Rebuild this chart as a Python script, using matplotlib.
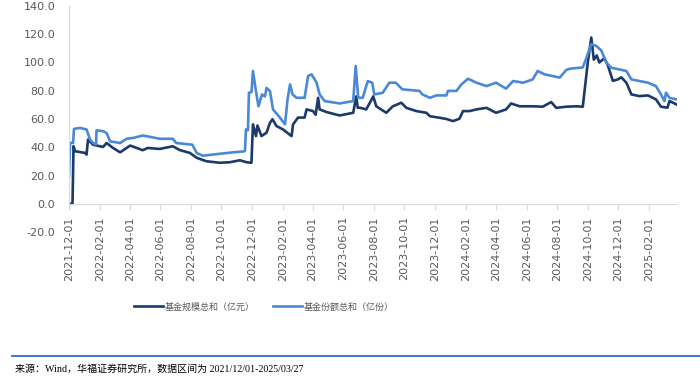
import pandas as pd
import matplotlib
matplotlib.use('Agg')
import matplotlib.pyplot as plt
import matplotlib.dates as mdates

# 基金规模总和（亿元）
SCALE_DATES = [
    '2021-12-01', '2021-12-08', '2021-12-10', '2021-12-13', '2022-01-02',
    '2022-01-05', '2022-01-08', '2022-01-18', '2022-02-07', '2022-02-14',
    '2022-02-27', '2022-03-13', '2022-04-02', '2022-04-27', '2022-05-07',
    '2022-05-31', '2022-06-26', '2022-07-10', '2022-07-30', '2022-08-13',
    '2022-09-01', '2022-09-28', '2022-10-18', '2022-11-07', '2022-11-20',
    '2022-11-30', '2022-12-03', '2022-12-09', '2022-12-12', '2022-12-20',
    '2022-12-30', '2023-01-06', '2023-01-11', '2023-01-19', '2023-02-01',
    '2023-02-18', '2023-02-21', '2023-03-03', '2023-03-16', '2023-03-20',
    '2023-04-02', '2023-04-07', '2023-04-12', '2023-04-15', '2023-04-29',
    '2023-05-25', '2023-06-21', '2023-06-27', '2023-06-30', '2023-07-04',
    '2023-07-17', '2023-07-31', '2023-08-06', '2023-08-26', '2023-09-08',
    '2023-09-25', '2023-10-05', '2023-10-25', '2023-11-14', '2023-11-21',
    '2023-12-10', '2023-12-24', '2024-01-06', '2024-01-19', '2024-01-26',
    '2024-02-08', '2024-02-22', '2024-03-13', '2024-04-01', '2024-04-21',
    '2024-05-01', '2024-05-18', '2024-06-13', '2024-07-03', '2024-07-20',
    '2024-07-30', '2024-08-19', '2024-09-08', '2024-09-21', '2024-10-01',
    '2024-10-08', '2024-10-13', '2024-10-19', '2024-10-24', '2024-11-03',
    '2024-11-10', '2024-11-20', '2024-11-30', '2024-12-07', '2024-12-17',
    '2024-12-27', '2025-01-12', '2025-01-29', '2025-02-14', '2025-02-24',
    '2025-03-09', '2025-03-13', '2025-03-20', '2025-03-27',
]
SCALE = [
    0.0, 0.0, 40.7, 37.2, 36.0,
    34.8, 45.5, 41.8, 40.2, 43.0,
    39.5, 36.4, 41.2, 37.9, 39.5,
    38.8, 40.7, 38.0, 36.0, 32.5,
    30.1, 29.0, 29.4, 30.8, 29.4,
    29.0, 56.2, 47.9, 55.4, 47.9,
    50.3, 57.4, 59.8, 55.0, 52.6,
    47.9, 56.2, 61.0, 61.0, 66.8,
    65.6, 63.0, 75.0, 66.8, 64.9,
    62.5, 64.4, 76.0, 68.0, 68.0,
    66.8, 76.0, 69.0, 64.4, 69.0,
    71.5, 67.9, 65.6, 64.4, 62.0,
    60.9, 60.0, 58.5, 60.2, 65.6,
    65.6, 66.8, 67.9, 64.4, 66.8,
    71.0, 69.0, 69.0, 68.7, 72.0,
    67.9, 68.7, 69.0, 68.7, 100.0,
    117.7, 102.0, 105.0, 100.0, 103.0,
    98.0, 87.0, 88.0, 89.5, 85.7,
    77.4, 76.2, 76.7, 73.9, 68.7,
    68.0, 72.7, 71.5, 70.3,
]

# 基金份额总和（亿份）
SHARE_DATES = [
    '2021-12-01', '2021-12-03', '2021-12-09', '2021-12-11', '2021-12-23',
    '2022-01-05', '2022-01-12', '2022-01-18', '2022-01-24', '2022-01-25',
    '2022-02-08', '2022-02-14', '2022-02-21', '2022-03-13', '2022-03-26',
    '2022-04-08', '2022-04-27', '2022-05-11', '2022-05-31', '2022-06-26',
    '2022-07-03', '2022-08-04', '2022-08-13', '2022-08-25', '2022-09-28',
    '2022-10-24', '2022-11-13', '2022-11-17', '2022-11-19', '2022-11-23',
    '2022-11-25', '2022-11-30', '2022-12-03', '2022-12-08', '2022-12-14',
    '2022-12-21', '2022-12-27', '2022-12-30', '2023-01-06', '2023-01-12',
    '2023-01-26', '2023-02-05', '2023-02-10', '2023-02-15', '2023-02-20',
    '2023-02-28', '2023-03-16', '2023-03-23', '2023-03-30', '2023-04-09',
    '2023-04-15', '2023-04-25', '2023-05-25', '2023-06-21', '2023-06-26',
    '2023-07-01', '2023-07-10', '2023-07-20', '2023-07-29', '2023-08-02',
    '2023-08-19', '2023-09-01', '2023-09-14', '2023-09-27', '2023-10-31',
    '2023-11-06', '2023-11-21', '2023-12-04', '2023-12-24', '2023-12-27',
    '2024-01-13', '2024-01-23', '2024-02-05', '2024-02-22', '2024-03-13',
    '2024-04-01', '2024-04-21', '2024-05-05', '2024-05-25', '2024-06-13',
    '2024-06-23', '2024-07-07', '2024-07-23', '2024-08-06', '2024-08-19',
    '2024-08-26', '2024-09-21', '2024-09-28', '2024-10-08', '2024-10-18',
    '2024-10-28', '2024-11-07', '2024-11-17', '2024-12-17', '2024-12-27',
    '2025-01-12', '2025-01-29', '2025-02-14', '2025-02-24', '2025-03-03',
    '2025-03-06', '2025-03-13', '2025-03-20', '2025-03-27',
]
SHARE = [
    19.4, 43.0, 43.0, 53.0, 53.7,
    52.6, 45.5, 43.0, 42.0, 52.0,
    51.3, 50.0, 44.2, 43.0, 46.0,
    46.6, 48.3, 47.4, 46.0, 46.0,
    43.0, 41.8, 35.9, 34.0, 35.4,
    36.4, 37.0, 37.3, 52.6, 52.0,
    78.6, 79.0, 94.0, 82.0, 69.0,
    77.4, 76.0, 82.0, 79.7, 66.8,
    60.9, 56.2, 73.9, 84.5, 77.4,
    75.0, 75.0, 90.4, 91.6, 85.7,
    77.4, 72.7, 71.0, 72.7, 97.5,
    75.0, 75.0, 86.8, 85.7, 77.4,
    78.6, 85.7, 85.7, 81.0, 79.9,
    77.4, 75.0, 76.7, 76.7, 79.9,
    79.9, 84.5, 88.5, 85.7, 83.3,
    85.7, 81.5, 86.9, 85.7, 88.0,
    94.0, 91.6, 90.4, 89.3, 94.7,
    95.6, 96.5, 103.0, 113.0, 111.7,
    108.5, 100.0, 96.3, 94.0, 88.0,
    86.9, 85.7, 83.3, 77.4, 72.7,
    78.6, 75.0, 74.4, 73.9,
]

SCALE_LABEL = '基金规模总和（亿元）'
SHARE_LABEL = '基金份额总和（亿份）'
SOURCE = '来源：Wind，华福证券研究所，数据区间为 2021/12/01-2025/03/27'

DARK = '#1b3a6b'
LIGHT = '#4a88d8'
GREY = '#595959'

fig = plt.figure(figsize=(7, 3.79), dpi=100)
ax = fig.add_axes([69 / 700, 1 - 232 / 379, (677 - 69) / 700, (232 - 6) / 379])

ax.plot(pd.to_datetime(SCALE_DATES), SCALE, color=DARK, lw=1.9, label=SCALE_LABEL)
ax.plot(pd.to_datetime(SHARE_DATES), SHARE, color=LIGHT, lw=1.9, label=SHARE_LABEL)

ax.set_ylim(-20, 140)
ax.set_yticks(range(-20, 141, 20))
ax.set_yticklabels(['{:.1f}'.format(v) for v in range(-20, 141, 20)])
ax.set_xlim(pd.Timestamp('2021-12-01'), pd.Timestamp('2025-03-28'))
ax.set_xticks(pd.date_range('2021-12-01', '2025-02-01', freq='2MS'))
ax.xaxis.set_major_formatter(mdates.DateFormatter('%Y-%m-%d'))

for s in ['top', 'right']:
    ax.spines[s].set_visible(False)
ax.spines['bottom'].set_position(('data', 0))
ax.spines['bottom'].set_color('#d9d9d9')
ax.spines['left'].set_color('#d9d9d9')
ax.spines['left'].set_bounds(0, 140)

ax.tick_params(axis='y', length=0, labelsize=8, labelcolor=GREY, pad=10)
ax.tick_params(axis='x', length=4, color='#d9d9d9', labelsize=8,
               labelcolor=GREY, labelrotation=90, pad=5)

fig.legend(loc='center', bbox_to_anchor=(264 / 700, 1 - 307 / 379), ncol=2,
           frameon=False, handlelength=3.2, columnspacing=2.0, handletextpad=0.2,
           prop={'family': ['Noto Sans CJK SC', 'DejaVu Sans'], 'size': 6.5},
           labelcolor=GREY)

fig.add_artist(plt.Line2D([12 / 700, 1], [1 - 355.5 / 379] * 2, color='#2e6cc4', lw=1.3))
fig.text(15 / 700, 1 - 369 / 379, SOURCE, fontsize=7.2, va='center', color='black',
         family=['Liberation Serif', 'Noto Sans CJK SC'])

fig.savefig('out.png', dpi=100)
